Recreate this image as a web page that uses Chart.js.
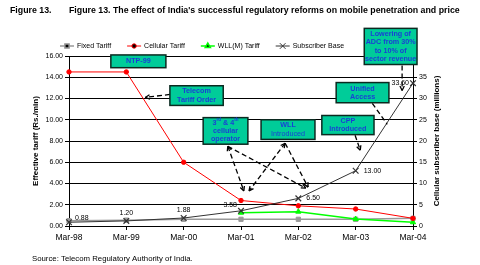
<!DOCTYPE html>
<html>
<head>
<meta charset="utf-8">
<script src="https://cdn.jsdelivr.net/npm/chart.js@4/dist/chart.umd.min.js"></script>
<style>
html,body{margin:0;padding:0;background:#fff;}
#wrap{position:relative;width:480px;height:265px;}
</style>
</head>
<body>
<div id="wrap"><canvas id="c" width="480" height="265"></canvas></div>
<script>
// ---- data ----
const categories = ['Mar-98','Mar-99','Mar-00','Mar-01','Mar-02','Mar-03','Mar-04'];
const fixedTariff = [0.5, 0.55, 0.63, 0.63, 0.63, 0.63, 0.72];
const cellularTariff = [14.5, 14.5, 6.0, 2.4, 1.9, 1.6, 0.72];
const wllTariff = [null, null, null, 1.25, 1.35, 0.65, 0.35];
const subscriberBase = [0.88, 1.20, 1.88, 3.58, 6.50, 13.00, 33.60];
const subscriberLabels = ['0.88','1.20','1.88','3.58','6.50','13.00','33.60'];
const tariffTicks = [0, 2, 4, 6, 8, 10, 12, 14, 16];
const baseTicks = [0, 5, 10, 15, 20, 25, 30, 35, 40];
const seriesNames = ['Fixed Tariff','Cellular Tariff','WLL(M) Tariff','Subscriber Base'];

// annotation boxes, anchored in data space (x = category index, y = tariff units)
const notes = [
  {lines:[[{t:'NTP-99'}]], x0:0.73, x1:1.69, y0:16.1, y1:14.9},
  {lines:[[{t:'Telecom'}],[{t:'Tariff Order'}]], x0:1.76, x1:2.69, y0:13.2, y1:11.35},
  {lines:[[{t:'3'},{t:'rd',sup:true},{t:' & 4'},{t:'th',sup:true}],[{t:'cellular'}],[{t:'operator'}]], x0:2.34, x1:3.12, y0:10.2, y1:7.7},
  {lines:[[{t:'WLL'}],[{t:'Introduced',light:true}]], x0:3.35, x1:4.29, y0:10.0, y1:8.15},
  {lines:[[{t:'CPP'}],[{t:'Introduced'}]], x0:4.41, x1:5.32, y0:10.4, y1:8.6},
  {lines:[[{t:'Unified'}],[{t:'Access'}]], x0:4.66, x1:5.58, y0:13.5, y1:11.6},
  {lines:[[{t:'Lowering of'}],[{t:'ADC from 30%'}],[{t:'to 10% of'}],[{t:'sector revenue'}]], x0:5.15, x1:6.07, y0:18.6, y1:15.2}
];
const arrows = [
  {from:[1.76,12.38], to:[1.33,12.1], head:'end'},
  {from:[2.77,7.5], to:[3.05,3.3], head:'both'},
  {from:[2.77,7.5], to:[4.13,3.56], head:'end'},
  {from:[3.77,7.79], to:[3.14,3.3], head:'both'},
  {from:[3.77,7.79], to:[4.17,3.66], head:'end'},
  {from:[4.99,8.54], to:[5.08,7.13], head:'end'},
  {from:[5.29,11.54], to:[5.55,9.57], head:'none'},
  {from:[5.81,15.1], to:[5.81,12.76], head:'end'}
];
const labelOffsets = [[6,-4,'left'],[0,-8,'center'],[0,-8,'center'],[-4,-6,'right'],[8,0,'left'],[8,0,'left'],[-4,0,'right']];

const FONT = '"Liberation Sans", Arial, sans-serif';

const decor = {
  id:'decor',
  afterDraw(chart){
    const ctx = chart.ctx, xs = chart.scales.x, ys = chart.scales.y, ca = chart.chartArea;
    ctx.save();
    // title
    ctx.fillStyle = '#000';
    ctx.font = 'bold 8.8px ' + FONT;
    ctx.textBaseline = 'middle';
    ctx.textAlign = 'left';
    ctx.fillText('Figure 13.', 10, 11);
    ctx.fillText("Figure 13. The effect of India's successful regulatory reforms on mobile penetration and price", 69, 11);
    // source
    ctx.font = '7.8px ' + FONT;
    ctx.fillStyle = '#000';
    ctx.fillText('Source: Telecom Regulatory Authority of India.', 32, 259);
    // axis titles
    ctx.font = 'bold 8px ' + FONT;
    ctx.fillStyle = '#000';
    ctx.textAlign = 'center';
    const cy = (ca.top + ca.bottom) / 2;
    ctx.save(); ctx.translate(36, cy); ctx.rotate(-Math.PI/2); ctx.fillText('Effective tariff (Rs./min)', 0, 0); ctx.restore();
    ctx.save(); ctx.translate(437, cy); ctx.rotate(-Math.PI/2); ctx.fillText('Cellular subscriber base (millions)', 0, 0); ctx.restore();

    // legend
    let lx = 60; const ly = 46;
    ctx.font = '7px ' + FONT;
    ctx.textAlign = 'left';
    chart.data.datasets.forEach((ds) => {
      ctx.strokeStyle = ds.borderColor; ctx.lineWidth = ds.borderWidth;
      ctx.beginPath(); ctx.moveTo(lx, ly); ctx.lineTo(lx + 14, ly); ctx.stroke();
      Chart.helpers.drawPoint(ctx, {pointStyle: ds.pointStyle, radius: ds.pointRadius, borderWidth: ds.pointBorderWidth || 1, rotation:0}, lx + 7, ly);
      ctx.fillStyle = '#000';
      ctx.fillText(ds.label, lx + 17, ly);
      lx += 17 + ctx.measureText(ds.label).width + 16;
    });

    // subscriber data labels
    const meta = chart.getDatasetMeta(3);
    ctx.font = '7px ' + FONT;
    ctx.fillStyle = '#000';
    meta.data.forEach((pt, i) => {
      const o = labelOffsets[i];
      ctx.textAlign = o[2];
      ctx.fillText(subscriberLabels[i], pt.x + o[0], pt.y + o[1]);
    });

    // arrows
    ctx.strokeStyle = '#000'; ctx.fillStyle = '#000';
    ctx.lineWidth = 1.3; ctx.setLineDash([5, 3]);
    const head = (x, y, ang) => {
      ctx.save(); ctx.setLineDash([]);
      ctx.beginPath();
      ctx.moveTo(x, y);
      ctx.lineTo(x - 5*Math.cos(ang - 0.45), y - 5*Math.sin(ang - 0.45));
      ctx.moveTo(x, y);
      ctx.lineTo(x - 5*Math.cos(ang + 0.45), y - 5*Math.sin(ang + 0.45));
      ctx.stroke(); ctx.restore();
    };
    arrows.forEach(a => {
      const x1 = xs.getPixelForValue(a.from[0]), y1 = ys.getPixelForValue(a.from[1]);
      const x2 = xs.getPixelForValue(a.to[0]), y2 = ys.getPixelForValue(a.to[1]);
      ctx.beginPath(); ctx.moveTo(x1, y1); ctx.lineTo(x2, y2); ctx.stroke();
      const ang = Math.atan2(y2 - y1, x2 - x1);
      if (a.head === 'end' || a.head === 'both') head(x2, y2, ang);
      if (a.head === 'both') head(x1, y1, ang + Math.PI);
    });
    ctx.setLineDash([]);

    // boxes
    notes.forEach(n => {
      const x0 = xs.getPixelForValue(n.x0), x1 = xs.getPixelForValue(n.x1);
      const y0 = ys.getPixelForValue(n.y0), y1 = ys.getPixelForValue(n.y1);
      ctx.fillStyle = '#00CC99';
      ctx.fillRect(x0, y0, x1 - x0, y1 - y0);
      ctx.strokeStyle = '#0b2a20'; ctx.lineWidth = 1.5;
      ctx.strokeRect(x0, y0, x1 - x0, y1 - y0);
      const lh = 8.2;
      const nl = n.lines.length;
      const cx = (x0 + x1) / 2, my = (y0 + y1) / 2;
      ctx.textBaseline = 'middle';
      n.lines.forEach((segs, li) => {
        const yy = my + (li - (nl - 1) / 2) * lh;
        let w = 0;
        segs.forEach(s => { ctx.font = (s.light ? '' : 'bold ') + (s.sup ? '4.5px ' : '7.2px ') + FONT; s.w = ctx.measureText(s.t).width; w += s.w; });
        let sx = cx - w / 2;
        ctx.textAlign = 'left';
        segs.forEach(s => {
          ctx.font = (s.light ? '' : 'bold ') + (s.sup ? '4.5px ' : '7.2px ') + FONT;
          ctx.fillStyle = '#1a3fd6';
          ctx.fillText(s.t, sx, s.sup ? yy - 2.5 : yy);
          sx += s.w;
        });
      });
    });
    ctx.restore();
  }
};

new Chart(document.getElementById('c'), {
  type: 'line',
  data: {
    labels: categories,
    datasets: [
      {label: seriesNames[0], data: fixedTariff, yAxisID:'y', borderColor:'#999999', backgroundColor:'#999999', borderWidth:1.5, pointStyle:'rect', pointRadius:3, pointBorderWidth:1, tension:0, order:4},
      {label: seriesNames[1], data: cellularTariff, yAxisID:'y', borderColor:'#FF0000', backgroundColor:'#FF0000', borderWidth:1, pointStyle:'circle', pointRadius:2.2, pointBorderWidth:1, tension:0, order:2},
      {label: seriesNames[2], data: wllTariff, yAxisID:'y', borderColor:'#00FF00', backgroundColor:'#00FF00', borderWidth:1.5, pointStyle:'triangle', pointRadius:3, pointBorderWidth:1, tension:0, order:3},
      {label: seriesNames[3], data: subscriberBase, yAxisID:'y1', borderColor:'#333333', backgroundColor:'#333333', borderWidth:1, pointStyle:'crossRot', pointRadius:4, pointBorderWidth:1.2, tension:0, order:1}
    ]
  },
  options: {
    responsive:false, animation:false, devicePixelRatio:1,
    layout:{padding:{top:56, left:0, right:0, bottom:19}},
    plugins:{legend:{display:false}, title:{display:false}, tooltip:{enabled:false}},
    scales:{
      x:{
        type:'category', offset:false,
        grid:{drawOnChartArea:false, drawTicks:true, tickLength:4, color:'#000'},
        border:{color:'#000', width:1},
        ticks:{color:'#000', font:{family:FONT, size:8.5}, padding:3, maxRotation:0, autoSkip:false},
        afterFit(s){ s.height = 20; }
      },
      y:{
        position:'left', min:0, max:16,
        afterBuildTicks(s){ s.ticks = tariffTicks.map(v => ({value:v})); },
        grid:{color:'#000', lineWidth:1, tickLength:4},
        border:{color:'#000', width:1},
        ticks:{color:'#000', font:{family:FONT, size:7}, padding:2, callback:v => v.toFixed(2)},
        afterFit(s){ s.width = 69; }
      },
      y1:{
        position:'right', min:0, max:40,
        afterBuildTicks(s){ s.ticks = baseTicks.map(v => ({value:v})); },
        grid:{drawOnChartArea:false, color:'#000', tickLength:4},
        border:{color:'#000', width:1},
        ticks:{color:'#000', font:{family:FONT, size:7}, padding:2, callback:v => v === 40 ? '' : String(v)},
        afterFit(s){ s.width = 67; }
      }
    }
  },
  plugins:[decor]
});
</script>
</body>
</html>
